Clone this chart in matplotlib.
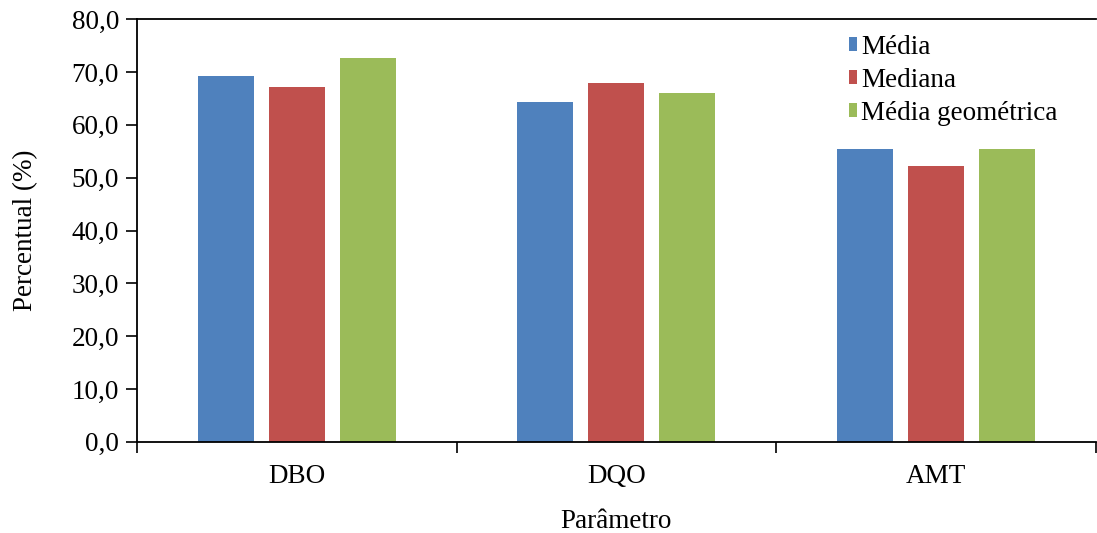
import matplotlib.pyplot as plt
import numpy as np

categorias = ["DBO", "DQO", "AMT"]
media = [69.3, 64.3, 55.5]
mediana = [67.2, 68.0, 52.3]
media_geo = [72.7, 66.1, 55.5]
series_labels = ["Média", "Mediana", "Média geométrica"]
y_ticks = np.arange(0, 81, 10)

plt.rcParams.update({
    'font.family': 'Liberation Serif',
    'font.size': 19.5,
})

fig = plt.figure(figsize=(10.97, 5.33), dpi=100)
ax = fig.add_axes([0.1249, 0.171, 0.874, 0.793])

x = np.arange(len(categorias))
bar_width = 0.175
offset = 0.222
cores = ['#4F81BD', '#C0504D', '#9BBB59']
for i, (vals, lab) in enumerate(zip([media, mediana, media_geo], series_labels)):
    ax.bar(x + (i - 1) * offset, vals, bar_width, color=cores[i], label=lab)

ax.set_xlim(-0.5, 2.5)
ax.set_ylim(0, 80)
ax.set_yticks(y_ticks)
ax.set_yticklabels([f"{v:.1f}".replace('.', ',') for v in y_ticks])
ax.set_xticks(x)
ax.set_xticklabels(categorias)
ax.set_xticks(np.arange(-0.5, 3, 1.0), minor=True)
ax.tick_params(axis='x', which='major', length=0, pad=16)
ax.tick_params(axis='x', which='minor', length=8, direction='out', width=1.2)
ax.tick_params(axis='y', length=8, direction='out', width=1.2, pad=5)

for side in ['left', 'bottom', 'top']:
    ax.spines[side].set_linewidth(1.3)
ax.spines['right'].set_visible(False)

ax.set_ylabel('Percentual (%)', labelpad=24)
ax.set_xlabel('Parâmetro', labelpad=14)

ax.legend(loc='upper left', bbox_to_anchor=(0.7735, 0.935), frameon=False,
          bbox_transform=fig.transFigure,
          handlelength=0.32, handleheight=0.4, handletextpad=0.15,
          labelspacing=0.3, borderaxespad=0, borderpad=0)

fig.savefig('out.png', dpi=100)
